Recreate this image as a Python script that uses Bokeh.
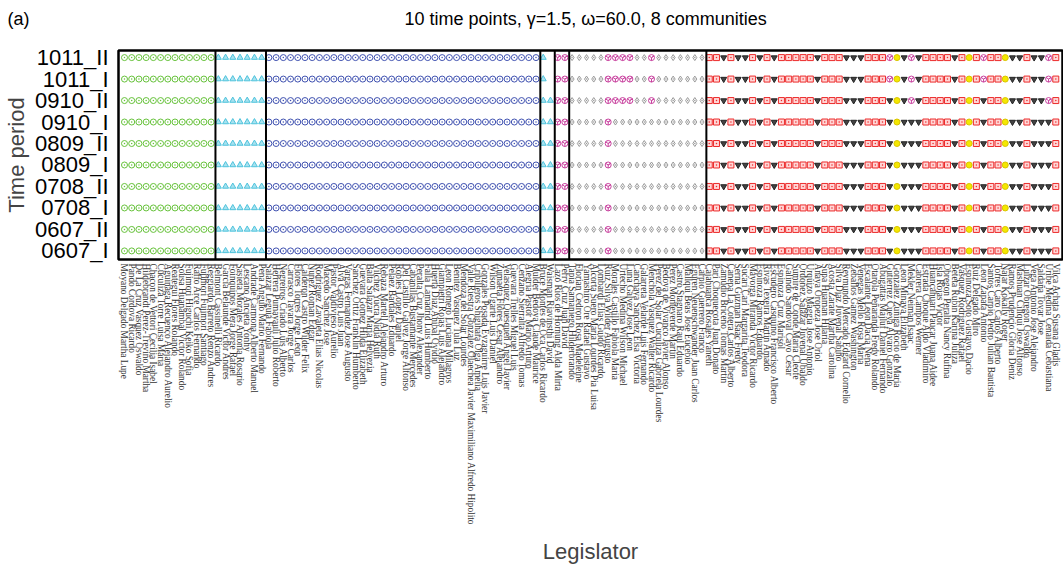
import math
from bokeh.plotting import figure
from bokeh.models import Range1d, FixedTicker, Span, ColumnDataSource, Title
from bokeh.embed import file_html
from bokeh.resources import INLINE

periods = ["0607_I", "0607_II", "0708_I", "0708_II", "0809_I", "0809_II",
           "0910_I", "0910_II", "1011_I", "1011_II"]

legislators = [
    "Moyano Delgado Martha Lupe", "Pando Cordova Ricardo", "De La Cruz Vasquez Oswaldo",
    "Hildebrandt Perez-Treviño Martha", "Chacon de Vettori Cecilia Isabel", "Cuculiza Torre Luisa Maria",
    "Aguinaga Recuenco Alejandro Aurelio", "Reategui Flores Rolando", "Sousa Huanambal Victor Rolando",
    "Fujimori Higuchi Keiko Sofia", "Raffo Arce Carlos Fernando", "Fujimori Fujimori Santiago",
    "Reggiardo Barreto Renzo Andres", "Belmont Cassinelli Ricardo", "Garcia Belaunde Victor Andres",
    "Foinquinos Mera Jorge Rafael", "Sasieta Morales Antonia Rosario", "Lescano Ancieta Yonhy",
    "Andrade Carmona Alberto Manuel", "Pena Angulo Mario Fernando", "Salazar Leguia Fabiola",
    "Herrera Pumayauli Julio Roberto", "Negreiros Criado Luis Alberto", "Carrasco Tavara Jorge Carlos",
    "Flores Torres Jorge Leon", "Calderon Castro Wilder Felix", "Nuñez Roman Edgar",
    "Rodriguez Zavaleta Elias Nicolas", "Macedo Sanchez Jose", "Pastor Valdivieso Aurelio",
    "Alva Castro Luis Juan", "Vargas Fernandez Jose Augusto", "Sanchez Ortiz Franklin Humberto",
    "Guevara Gomez Hilda Elizabeth", "Balta Salazar Maria Helvezia", "Vilchez Yucra Nidia Ruth",
    "Rebaza Martell Alejandro Arturo", "Pelaez Bardales Eduardo", "Robles Lopez Daniel",
    "Del Castillo Galvez Jorge Alfonso", "Cabanillas Bustamante Mercedes", "Peralta Cruz Jhony Alexander",
    "Falla Lamadrid Luis Humberto", "Huerta Diaz Anibal Ovidio", "Giampietri Rojas Luis Alejandro",
    "Leon Romero Luciana Milagros", "Benitez Vasquez Tula Luz", "Mendoza del Solar Lourdes",
    "Valle Riestra Gonzalez Olaechea Javier Maximiliano Alfredo Hipolito",
    "Cribilleros Shigihara Olga Amelia", "Gonzales Posada Eyzaguirre Luis Javier",
    "Wilson Ugarte Luis Daniel", "Zumaeta Flores Cesar Alejandro", "Velasquez Quesquen Angel Javier",
    "Guevara Trelles Miguel Luis", "Cenzano Sierralta Alfredo Tomas", "Alegria Pastor Mario Arturo",
    "Mulder Bedoya Claude Maurice", "Bruce Montes de Oca Carlos Ricardo", "Waisman Rjavinsthi David",
    "Lazo Rios de Hornung Alda Mirta", "Perry Cruz Juan David", "Tapia Samaniego Hilderbrando",
    "Florian Cedron Rosa Madeleine", "Yamashiro Ore Rafael Gustavo", "Alcorta Suero Maria Lourdes Pia Luisa",
    "Lombardi Elias Guido Ricardo", "Ruiz Silva Wilder Augusto", "Morales Castillo Fabiola Maria",
    "Urtecho Medina Wilson Michael", "Luna Galvez Jose Leon", "Canchaya Sanchez Elsa Victoria",
    "Galarreta Velarde Luis Fernando", "Menchola Vasquez Walter Ricardo",
    "Perez del Solar Cuculiza Gabriela Lourdes", "Bedoya de Vivanco Javier Alonso",
    "Perez Monteverde Martin", "Castro Stagnaro Raul Eduardo", "Mallqui Beas Jose Eucebio",
    "Eguren Neuenschwander Juan Carlos", "Carpio Guerrero Franco", "Cajahuanca Rosales Yaneth",
    "Pari Choquecota Juan Donato", "Zamudio Briceño Tomas Martin", "Canepa La Cotera Carlos Alberto",
    "Serna Guzman Isaac Fredy", "Sucari Cari Margarita Teodora", "Mayorga Miranda Victor Ricardo",
    "Espinoza Ramos Eduardo", "Rivas Texeira Martin Amado", "Escudero Casquino Francisco Alberto",
    "Espinoza Cruz Marisol", "Galindo Sandoval Cayo Cesar", "Sumire de Conde Maria Cleofe",
    "Ordoñez Salazar Juvenal Ubaldo", "Urquizo Maggia Jose Antonio", "Anaya Oropeza Jose Oriol",
    "Supa Huaman Hilaria", "Acosta Zarate Martha Carolina", "Silva Diaz Juvenal Sabino",
    "Reymundo Mercado Edgard Cornelio", "Zeballos Gamez Washington", "Venegas Mello Rosa Maria",
    "Escalante Leon Dacia Nena", "Otarola Peñaranda Fredy Rolando", "Abugattas Majluf Daniel Fernando",
    "Gutierrez Cueva Alvaro Gonzalo", "Gonzalez Zuñiga Rocio de Maria", "Leon Minaya Elizabeth",
    "Mekler Neiman Isaac", "Cabrera Campos Werner", "Estrada Choque Aldo Vladimiro",
    "Huancahuari Paucar Juana Aidee", "Isla Rojas Victor", "Obregon Peralta Nancy Rufina",
    "Beteta Rubin Karina Juliza", "Vasquez Rodriguez Rafael", "Espinoza Soto Gustavo Dacio",
    "Ruiz Delgado Miro", "Leon Zapata Antonio", "Santos Carpio Pedro Julian Bautista",
    "Torres Caro Carlos Alberto", "Najar Kokally Roger", "Ramos Prudencio Gloria Deniz",
    "Mashuan Ciliqui Jose Alfonso", "Luizar Obregon Oswaldo", "Vega Antonio Jose Alejandro",
    "Saldaña Tovar Jose", "Uribe Medina Cenaida Cebastiana", "Vilca Achata Susana Gladis",
]

# Community of each legislator in each period.
# G green, C cyan, B blue, M magenta, D gray, R red, K black, Y yellow, '.' absent
communities = {
    "1011_II": "G" * 13 + "C" * 7 + "B" * 38 + "C." + "MM" + "DDDDDMMMMDDMDDDDDDD"
               + "RRKRKKRKRK" + "RRRRRKRRRK" + "KKRRRMYKMK" + "RRRRKRYRMR" + "RYKKRKKMR",
    "1011_I":  "G" * 13 + "C" * 7 + "B" * 38 + "C." + "MM" + "DDDDDMMMMDDMDDDDDDD"
               + "RRKRKKRKRK" + "RRRRRKRRRK" + "KKRRRMYKMK" + "RRRRKRYRMR" + "RYKKRKKMR",
    "0910_II": "G" * 13 + "C" * 7 + "B" * 38 + "CC" + "MM" + "DDDDDMMMMDDMDDDDDDD"
               + "RRKRKKRKRK" + "RRRRRKRRRK" + "KKRRRKYKMK" + "RRRRKRYRKR" + "RYKKRKKMR",
    "0910_I":  "G" * 13 + "C" * 7 + "B" * 38 + "CC" + "MM" + "DDDDDMDDDDDDDDDDDDD"
               + "RRKRKKRKRK" + "RRRRRKRRRK" + "KKRRRKYKKK" + "RRRRKRYRKR" + "RYKKRKKKR",
    "0809_II": "G" * 13 + "C" * 7 + "B" * 38 + "CC" + "MM" + "DDDDDMDDDDDDDDDDDDD"
               + "RRKRKKRKRK" + "RRRRRKRRRK" + "KKRRRKYKKK" + "RRRRKRYRKR" + "RYKKRKKKR",
    "0809_I":  "G" * 13 + "C" * 7 + "B" * 38 + "CC" + "MM" + "DDDDDMDDDDDDDDDDDDD"
               + "RRKRKKRKRK" + "RRRRRKRRRK" + "KKRRRKYKKK" + "RRRRKRYRKR" + "RYKKRKKKR",
    "0708_II": "G" * 13 + "C" * 7 + "B" * 38 + "CC" + "MM" + "DDDDDMDDDDDDDDDDDDD"
               + "RRKRKKRKRK" + "RRRRRKRRRK" + "KKRRRKYKKK" + "RRRRKRYRKR" + "RYKKRKKKR",
    "0708_I":  "G" * 13 + "C" * 7 + "B" * 38 + "CC" + "MM" + "DDDDDMDDDDDDDDDDDDD"
               + "RRKRKKRKRK" + "RRRRRKRRRK" + "KKRRRKYKKK" + "RRRRKRYRKR" + "RYKKRKKKR",
    "0607_II": "G" * 13 + "C" * 7 + "B" * 38 + "CC" + "MM" + "DDDDDMDDDDDDDDDDDDD"
               + "RRKRKKRKRK" + "RRRRRKRRRK" + "KKRRRKYKKK" + "RRRRKRYRKR" + "RYKKRKKKR",
    "0607_I":  "G" * 13 + "C" * 7 + "B" * 38 + "CC" + "MM" + "DDDDDMDDDDDDDDDDDDD"
               + "RRKRKKRKRK" + "RRRRRKRRRK" + "KKRRRKYKKK" + "RRRRKRYRKR" + "RYKKRKKKR",
}

# sizes of the blocks separated by vertical lines
block_sizes = [13, 7, 38, 2, 2, 19, 49]

comm_style = {
    # marker, line colour, fill colour, fill alpha
    "G": ("circle_dot", "#66c23a", "white", 0.0),
    "C": ("triangle", "#4ec3dc", "#a8e2f0", 1.0),
    "B": ("circle_dot", "#3f51b0", "white", 0.0),
    "M": ("circle_y", "#c8409e", "white", 0.0),
    "D": ("diamond_dot", "#9a9a9a", "white", 0.0),
    "R": ("square_dot", "#ec2b2b", "#ffd6d6", 1.0),
    "K": ("inverted_triangle", "#222222", "#444444", 1.0),
    "Y": ("circle", "#d9c400", "#f4e800", 1.0),
}

xs, ys, markers, lcolors, fcolors, falphas = [], [], [], [], [], []
for yi, per in enumerate(periods):
    row = communities[per]
    for xi, c in enumerate(row):
        if c == ".":
            continue
        m, lc, fc, fa = comm_style[c]
        xs.append(xi + 1)
        ys.append(yi + 1)
        markers.append(m)
        lcolors.append(lc)
        fcolors.append(fc)
        falphas.append(fa)

src = ColumnDataSource(dict(x=xs, y=ys, marker=markers, lc=lcolors, fc=fcolors, fa=falphas))

p = figure(width=1064, height=565, output_backend="svg", toolbar_location=None,
           x_range=Range1d(0.17, 130.93), y_range=Range1d(0.6, 10.33),
           frame_width=944, frame_height=209,
           min_border_left=118, min_border_top=50, min_border_right=1, min_border_bottom=0)

p.scatter(x="x", y="y", marker="marker", size=6, line_color="lc", line_width=1.0,
          fill_color="fc", fill_alpha="fa", source=src)

pos = 0.6
for b in block_sizes[:-1]:
    pos += b
    p.add_layout(Span(location=pos, dimension="height", line_color="black", line_width=2))

p.grid.visible = False
p.outline_line_color = "black"
p.outline_line_width = 2.5

p.yaxis.ticker = FixedTicker(ticks=list(range(1, 11)))
p.yaxis.major_label_overrides = {i + 1: s for i, s in enumerate(periods)}
p.yaxis.major_label_text_font = "Liberation Sans"
p.yaxis.major_label_text_font_size = "22px"
p.yaxis.major_label_text_color = "black"
p.yaxis.major_label_standoff = 10
p.yaxis.axis_label = "Time period"
p.yaxis.axis_label_text_font = "Liberation Sans"
p.yaxis.axis_label_text_font_size = "22px"
p.yaxis.axis_label_text_font_style = "normal"
p.yaxis.axis_label_standoff = 3

p.xaxis.ticker = FixedTicker(ticks=list(range(1, 131)))
p.xaxis.major_label_overrides = {i + 1: s for i, s in enumerate(legislators)}
p.xaxis.major_label_orientation = -math.pi / 2
p.xaxis.major_label_text_font = "Liberation Serif"
p.xaxis.major_label_text_font_size = "9.3px"
p.xaxis.major_label_text_color = "#333333"
p.xaxis.major_label_standoff = 4
p.xaxis.axis_label = "Legislator"
p.xaxis.axis_label_text_font = "Liberation Sans"
p.xaxis.axis_label_text_font_size = "22px"
p.xaxis.axis_label_text_font_style = "normal"
p.xaxis.axis_label_standoff = 11

for ax in (p.xaxis, p.yaxis):
    ax.axis_line_color = None
    ax.major_tick_line_color = None
    ax.minor_tick_line_color = None
    ax.major_tick_out = 0
    ax.major_tick_in = 0

# the built-in title stays empty; a small spacer keeps the real title higher above the frame
p.title.text = ""
spacer = Title(text="\u00a0", text_font_size="1px", standoff=19)
panel_tag = "(a)"
title_text = "10 time points, γ=1.5, ω=60.0, 8 communities"
main_title = Title(text=panel_tag + "\u00a0" * 75 + title_text, align="left", offset=-111,
                   text_font="Liberation Sans", text_font_size="18px",
                   text_font_style="normal", text_color="black", standoff=0)
p.add_layout(spacer, "above")
p.add_layout(main_title, "above")

open("out.html", "w").write(file_html(p, INLINE))
